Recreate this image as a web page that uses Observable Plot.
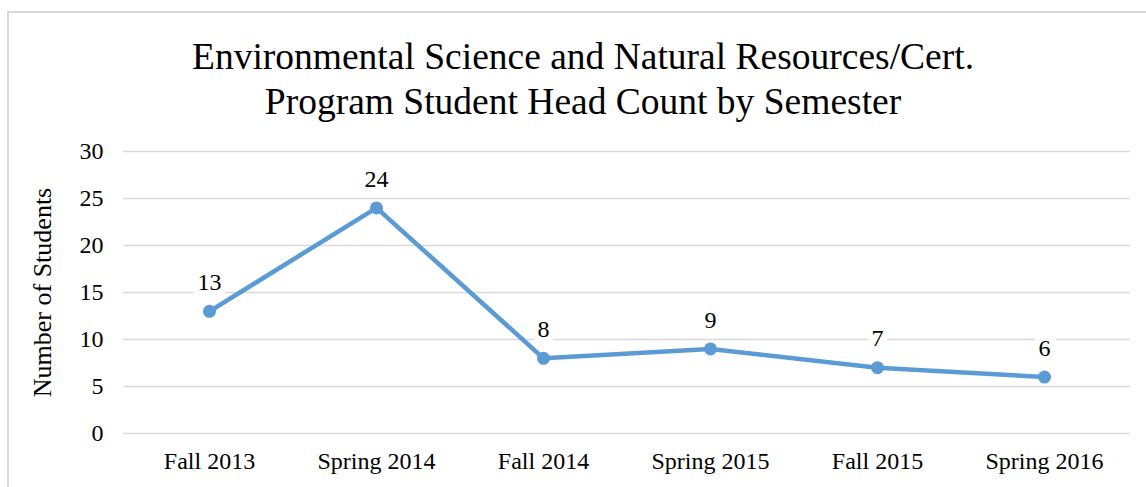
<!DOCTYPE html>
<html>
<head>
<meta charset="utf-8">
<script src="https://cdn.jsdelivr.net/npm/d3@7"></script>
<script src="https://cdn.jsdelivr.net/npm/@observablehq/plot@0.6"></script>
<style>
  html, body { margin: 0; padding: 0; background: #fff; overflow: hidden; width: 1146px; height: 487px; }
  #frame { position: absolute; left: 7px; top: 11px; width: 1160px; height: 520px; border: 2px solid #d9d9d9; box-sizing: border-box; }
  #title { position: absolute; left: 0; top: 34px; width: 1166px; text-align: center; font-family: "Liberation Serif", "Times New Roman", serif; font-size: 37.5px; line-height: 45px; color: #000; }
  #chart { position: absolute; left: 0; top: 130px; }
</style>
</head>
<body>
<div id="frame"></div>
<div id="title">Environmental Science and Natural Resources/Cert.<br>Program Student Head Count by Semester</div>
<div id="chart"></div>
<script>
const semesters = ["Fall 2013", "Spring 2014", "Fall 2014", "Spring 2015", "Fall 2015", "Spring 2016"];
const headCounts = [13, 24, 8, 9, 7, 6];
const yTicks = [0, 5, 10, 15, 20, 25, 30];

const data = semesters.map((s, i) => ({semester: s, count: headCounts[i]}));

const chart = Plot.plot({
  width: 1146,
  height: 357,
  marginLeft: 123,
  marginRight: 16,
  marginTop: 21,
  marginBottom: 54,
  style: {fontFamily: "'Liberation Serif', 'Times New Roman', serif", fontSize: "24px", color: "#000", background: "transparent"},
  x: {type: "point", domain: semesters, padding: 0.5},
  y: {domain: [0, 30]},
  marks: [
    Plot.gridY(yTicks, {stroke: "#d9d9d9", strokeOpacity: 1, strokeWidth: 1.5}),
    Plot.axisY(yTicks, {tickSize: 0, tickPadding: 20, fontSize: 24, label: null}),
    Plot.axisY([], {tickSize: 0, fontSize: 26, label: "Number of Students", labelAnchor: "center", labelArrow: "none", labelOffset: 91}),
    Plot.axisX({tickSize: 0, tickPadding: 18, fontSize: 24, label: null}),
    Plot.line(data, {x: "semester", y: "count", stroke: "#5B9BD5", strokeWidth: 4.5, strokeLinejoin: "round", strokeLinecap: "round"}),
    Plot.dot(data, {x: "semester", y: "count", r: 6.5, fill: "#5B9BD5", stroke: "none"}),
    Plot.text(data, {x: "semester", y: "count", text: d => String(d.count), dy: -29, fontSize: 24, fill: "#000", stroke: "#fff", strokeWidth: 14, paintOrder: "stroke"})
  ]
});
document.getElementById("chart").appendChild(chart);
</script>
</body>
</html>
